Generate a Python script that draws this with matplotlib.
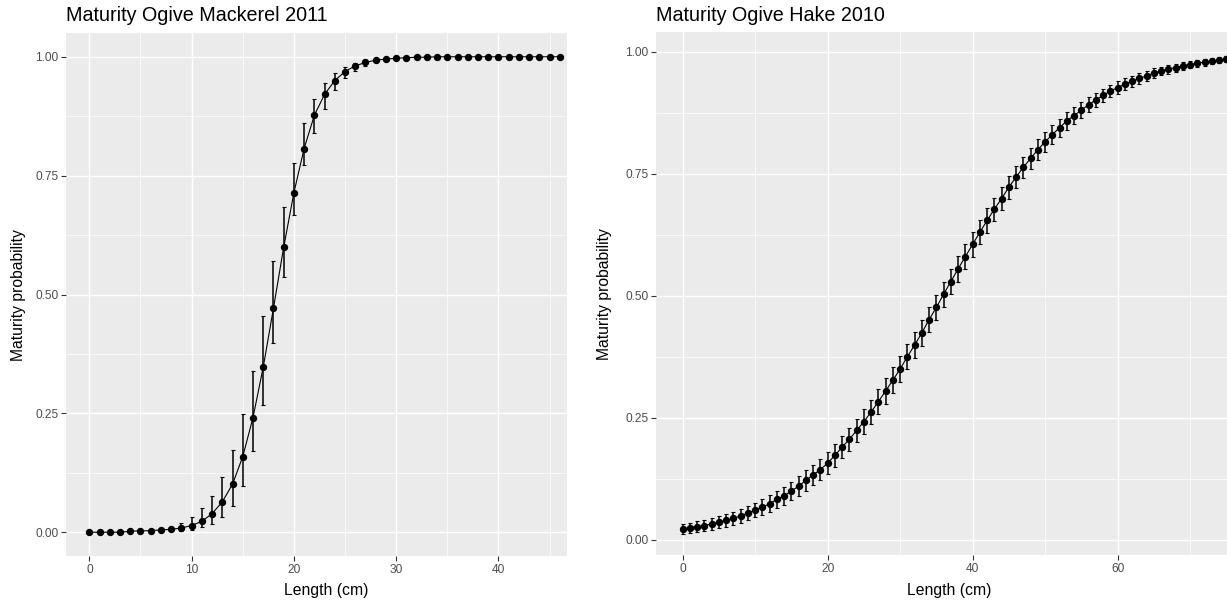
import numpy as np
import matplotlib.pyplot as plt
from matplotlib.ticker import MultipleLocator, FormatStrFormatter

plt.rcParams['font.family'] = ['Liberation Sans', 'DejaVu Sans']

# Mackerel 2011: length (cm), fitted maturity and confidence limits
mack_len = list(range(0, 47))
mack_p = [0.000, 0.000, 0.000, 0.000, 0.002, 0.003, 0.003, 0.005, 0.006, 0.009,
          0.014, 0.023, 0.039, 0.064, 0.101, 0.159, 0.241, 0.347, 0.471, 0.599,
          0.714, 0.807, 0.877, 0.921, 0.950, 0.969, 0.981, 0.988, 0.993, 0.995,
          0.997, 0.998, 0.999, 0.999, 1.000, 1.000, 1.000, 1.000, 1.000, 1.000,
          1.000, 1.000, 1.000, 1.000, 1.000, 1.000, 1.000]
mack_lo = [0.000, 0.000, 0.000, 0.000, 0.001, 0.001, 0.001, 0.002, 0.002, 0.003,
           0.005, 0.010, 0.017, 0.033, 0.056, 0.098, 0.170, 0.267, 0.398, 0.536,
           0.667, 0.773, 0.840, 0.890, 0.930, 0.955, 0.970, 0.981, 0.988, 0.992,
           0.995, 0.997, 0.998, 0.999, 0.999, 1.000, 1.000, 1.000, 1.000, 1.000,
           1.000, 1.000, 1.000, 1.000, 1.000, 1.000, 1.000]
mack_hi = [0.001, 0.001, 0.001, 0.002, 0.004, 0.005, 0.006, 0.009, 0.012, 0.020,
           0.033, 0.051, 0.077, 0.116, 0.173, 0.249, 0.340, 0.455, 0.571, 0.685,
           0.777, 0.861, 0.912, 0.945, 0.966, 0.979, 0.987, 0.993, 0.996, 0.998,
           0.999, 0.999, 1.000, 1.000, 1.000, 1.000, 1.000, 1.000, 1.000, 1.000,
           1.000, 1.000, 1.000, 1.000, 1.000, 1.000, 1.000]

# Hake 2010: length (cm), fitted maturity and half width of the interval
hake_len = list(range(0, 76))
hake_p = [0.0225, 0.025, 0.027, 0.029, 0.033, 0.036, 0.040, 0.044, 0.049, 0.055,
          0.061, 0.067, 0.074, 0.083, 0.090, 0.100, 0.110, 0.122, 0.133, 0.144,
          0.157, 0.173, 0.190, 0.206, 0.224, 0.242, 0.262, 0.283, 0.305, 0.327,
          0.350, 0.375, 0.399, 0.424, 0.451, 0.476, 0.503, 0.529, 0.555, 0.580,
          0.605, 0.630, 0.654, 0.677, 0.699, 0.722, 0.743, 0.763, 0.781, 0.799,
          0.815, 0.830, 0.844, 0.858, 0.869, 0.880, 0.891, 0.901, 0.910, 0.919,
          0.926, 0.933, 0.939, 0.945, 0.950, 0.956, 0.960, 0.964, 0.967, 0.971,
          0.973, 0.976, 0.978, 0.980, 0.982, 0.984]
hake_se = [0.010, 0.010, 0.011, 0.011, 0.012, 0.012, 0.013, 0.013, 0.014, 0.015,
           0.015, 0.016, 0.017, 0.018, 0.018, 0.019, 0.020, 0.021, 0.021, 0.022,
           0.022, 0.023, 0.023, 0.024, 0.024, 0.025, 0.025, 0.025, 0.026, 0.026,
           0.026, 0.026, 0.026, 0.026, 0.026, 0.026, 0.026, 0.026, 0.026, 0.026,
           0.025, 0.025, 0.025, 0.024, 0.024, 0.023, 0.023, 0.022, 0.021, 0.021,
           0.020, 0.019, 0.018, 0.018, 0.017, 0.016, 0.015, 0.015, 0.014, 0.013,
           0.013, 0.012, 0.011, 0.011, 0.010, 0.010, 0.009, 0.009, 0.008, 0.008,
           0.007, 0.007, 0.007, 0.006, 0.006, 0.006]

W, H = 1227, 606
fig = plt.figure(figsize=(W / 100, H / 100), dpi=100)


def px_axes(x0, y0, x1, y1):
    # x0,y0 = top-left pixel, x1,y1 = bottom-right pixel
    return fig.add_axes([x0 / W, 1 - y1 / H, (x1 - x0) / W, (y1 - y0) / H])


def ggplot_style(ax, xstep):
    ax.set_facecolor('#EBEBEB')
    for s in ax.spines.values():
        s.set_visible(False)
    ax.xaxis.set_major_locator(MultipleLocator(xstep))
    ax.xaxis.set_minor_locator(MultipleLocator(xstep / 2))
    ax.yaxis.set_major_locator(MultipleLocator(0.25))
    ax.yaxis.set_minor_locator(MultipleLocator(0.125))
    ax.yaxis.set_major_formatter(FormatStrFormatter('%.2f'))
    ax.grid(which='major', color='white', linewidth=1.05)
    ax.grid(which='minor', color='white', linewidth=0.5)
    ax.set_axisbelow(True)
    ax.tick_params(which='major', length=3.5, width=0.8, color='#333333',
                   labelcolor='#4D4D4D', labelsize=8.6, pad=2)
    ax.tick_params(which='minor', length=0)


def draw(ax, x, p, lo, hi):
    p = np.array(p)
    err = [p - np.array(lo), np.array(hi) - p]
    ax.errorbar(x, p, yerr=err, fmt='none', ecolor='black', elinewidth=1.1,
                capsize=1.2, capthick=0.8, zorder=2)
    ax.plot(x, p, color='black', linewidth=0.8, zorder=3)
    ax.plot(x, p, 'o', color='black', markersize=4.3, zorder=4)


# left panel
ax1 = px_axes(66, 33, 567, 556)
ggplot_style(ax1, 10)
draw(ax1, mack_len, mack_p, mack_lo, mack_hi)
ax1.set_xlim(-2.28, 46.7)
ax1.set_ylim(-0.05, 1.05)

# right panel
ax2 = px_axes(656, 32, 1227, 555)
ggplot_style(ax2, 20)
hake_lo = np.array(hake_p) - np.array(hake_se)
hake_hi = np.array(hake_p) + np.array(hake_se)
draw(ax2, hake_len, hake_p, hake_lo, hake_hi)
ax2.set_xlim(-3.68, 75.1)
ax2.set_ylim(-0.031, 1.040)

# titles and axis titles
fig.text(66 / W, 1 - 21 / H, 'Maturity Ogive Mackerel 2011', fontsize=14.2,
         ha='left', va='baseline')
fig.text(656 / W, 1 - 21 / H, 'Maturity Ogive Hake 2010', fontsize=14.2,
         ha='left', va='baseline')
fig.text(326 / W, 1 - 591 / H, 'Length (cm)', fontsize=11.3, ha='center', va='center')
fig.text(949 / W, 1 - 591 / H, 'Length (cm)', fontsize=11.3, ha='center', va='center')
fig.text(18.5 / W, 1 - 295 / H, 'Maturity probability', fontsize=11.3,
         rotation=90, ha='center', va='center')
fig.text(605 / W, 1 - 294 / H, 'Maturity probability', fontsize=11.3,
         rotation=90, ha='center', va='center')

fig.savefig('out.png', dpi=100, facecolor='white')
